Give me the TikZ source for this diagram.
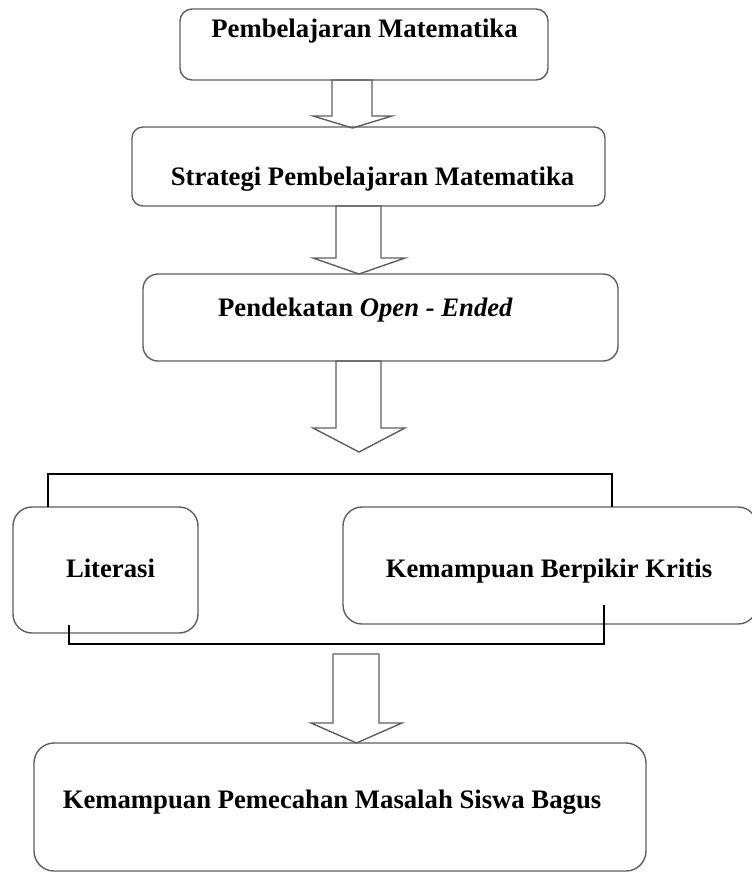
\documentclass[tikz,border=0pt]{standalone}
\usepackage{fontspec}
\setmainfont{Liberation Serif}
\definecolor{boxgray}{HTML}{5E5E5E}
\tikzset{
  box/.style={draw=boxgray, line width=1.4pt, rectangle, inner sep=0pt, outer sep=0pt},
  lbl/.style={anchor=base, inner sep=0pt, font=\fontsize{26.7}{30}\selectfont\bfseries},
  arrowst/.style={draw=boxgray, line width=1.4pt, line join=miter},
  bracket/.style={draw=black, line width=1.2pt},
}
\newcommand{\myblockarrow}[7]{%
  \draw[arrowst] (#1,#3) -- (#1,#4) -- (#5,#4) -- ({(#5+#6)/2},#7) -- (#6,#4) -- (#2,#4) -- (#2,#3) -- cycle;}
\begin{document}
\begin{tikzpicture}[x=1pt,y=-1pt]
\useasboundingbox (0,0) rectangle (752,873);
\clip (0,0) rectangle (752,873);
% boxes
\node[box, rounded corners=12pt, minimum width=368pt, minimum height=71pt] (b1) at (364,44.5) {};
\node[box, rounded corners=11pt, minimum width=473pt, minimum height=79pt] (b2) at (368.5,166.5) {};
\node[box, rounded corners=15pt, minimum width=475pt, minimum height=87pt] (b3) at (380.5,317.5) {};
\node[box, rounded corners=19pt, minimum width=185pt, minimum height=126pt] (lit) at (105.5,570) {};
\node[box, rounded corners=19pt, minimum width=414pt, minimum height=117pt] (kbk) at (550,565.5) {};
\node[box, rounded corners=20pt, minimum width=612pt, minimum height=128pt] (bot) at (340,807) {};
% texts
\node[lbl] (t1) at (364.5,37) {Pembelajaran Matematika};
\node[lbl] (t2) at (372.5,185) {Strategi Pembelajaran Matematika};
\node[lbl] (t3) at (365.5,316) {Pendekatan \textit{Open - Ended}};
\node[lbl] (t4) at (110.5,577) {Literasi};
\node[lbl] (t5) at (549,577) {Kemampuan Berpikir Kritis};
\node[lbl] (t6) at (332,808) {Kemampuan Pemecahan Masalah Siswa Bagus};
% block arrows
\myblockarrow{332}{372}{80}{116}{313}{392}{128}
\myblockarrow{336}{381}{206}{258}{313}{405}{274}
\myblockarrow{336}{381}{361}{428}{313}{405}{452}
\myblockarrow{333}{379}{654}{723}{311}{402}{743}
% brackets
\coordinate (tl) at (48,474);
\coordinate (tr) at (612,474);
\coordinate (bl) at (69,644);
\coordinate (br) at (604,644);
\draw[bracket] (lit.north -| tl) -- (tl) -- (tr) -- (kbk.north -| tr);
\draw[bracket] (69,625) -- (bl) -- (br) -- (604,605);
\end{tikzpicture}
\end{document}
